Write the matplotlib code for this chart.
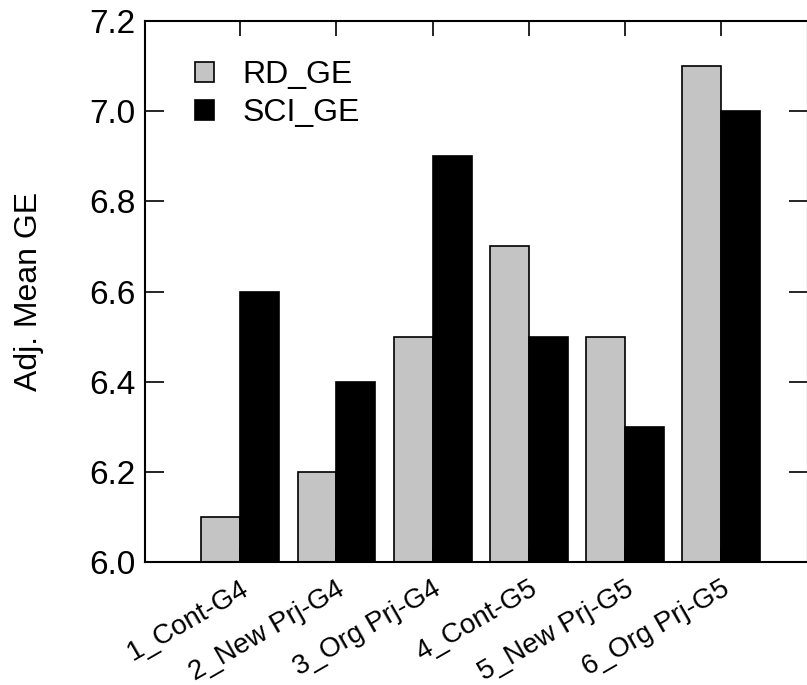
import numpy as np
import matplotlib.pyplot as plt

plt.rcParams['font.family'] = ['Liberation Sans', 'DejaVu Sans']

groups = ['1_Cont-G4', '2_New Prj-G4', '3_Org Prj-G4', '4_Cont-G5', '5_New Prj-G5', '6_Org Prj-G5']
rd_ge = [6.1, 6.2, 6.5, 6.7, 6.5, 7.1]
sci_ge = [6.6, 6.4, 6.9, 6.5, 6.3, 7.0]


def main():
	fig = plt.figure(figsize=(8.07, 6.85), dpi=100)
	ax = fig.add_axes([145 / 807, 1 - 562 / 685, 663 / 807, 541 / 685])

	x = np.arange(len(groups))
	w = 0.405
	ax.bar(x - w / 2, np.array(rd_ge) - 6.0, w, bottom=6.0, color='#c4c4c4',
		edgecolor='black', linewidth=1.2, label='RD_GE')
	ax.bar(x + w / 2, np.array(sci_ge) - 6.0, w, bottom=6.0, color='black',
		edgecolor='black', linewidth=1.2, label='SCI_GE')

	ax.set_ylim(6.0, 7.2)
	ax.set_xlim(-0.99, 5.9)
	yt = np.arange(6.0, 7.21, 0.2)
	ax.set_yticks(yt)
	ax.set_yticklabels(['%.1f' % v for v in yt], fontsize=24)
	ax.set_xticks(x)
	ax.set_xticklabels(groups, fontsize=20, rotation=30, ha='right', rotation_mode='anchor')
	ax.tick_params(axis='y', direction='in', length=14, width=1.2, right=True, pad=7)
	ax.tick_params(axis='x', direction='in', length=11, width=1.2, top=True, pad=10)
	for s in ax.spines.values():
		s.set_linewidth(1.5)

	ax.set_ylabel('Adj. Mean GE', fontsize=23, labelpad=32)

	ax.legend(loc='upper left', bbox_to_anchor=(0.075, 0.927), frameon=False, fontsize=23,
		borderpad=0, borderaxespad=0,
		handlelength=0.6, handleheight=0.6, handletextpad=0.9, labelspacing=0.25)

	fig.savefig('out.png', dpi=100)


if __name__ == '__main__':
	main()
